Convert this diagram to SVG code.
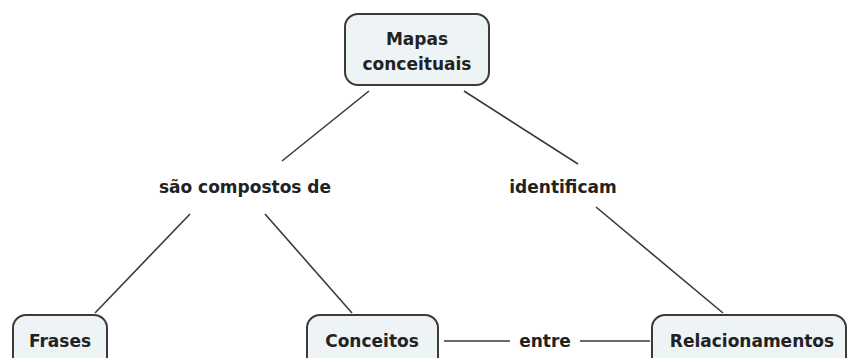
<svg xmlns="http://www.w3.org/2000/svg" width="848" height="358" viewBox="0 0 848 358">
<style>
.node rect{fill:#eef3f6;stroke:#3a3a3a;stroke-width:2}
text{font-family:"DejaVu Sans",Verdana,sans-serif;font-weight:bold;font-size:17px;fill:#222;text-anchor:middle;dominant-baseline:central}
.conn line{stroke:#3a3a3a;stroke-width:1.6}
</style>
<rect width="848" height="358" fill="#fff"/>
<g class="conn">
<line x1="369" y1="91" x2="282" y2="161"/>
<line x1="464" y1="91" x2="578" y2="164"/>
<line x1="190" y1="214" x2="95" y2="313"/>
<line x1="265" y1="214" x2="352" y2="313"/>
<line x1="596" y1="207" x2="723" y2="313"/>
<line x1="444" y1="341" x2="510" y2="341"/>
<line x1="580" y1="341" x2="650" y2="341"/>
</g>
<g id="n-mapas" class="node">
<rect x="345" y="14" width="144" height="71" rx="13"/>
<text x="417" y="39">Mapas</text>
<text x="417" y="64">conceituais</text>
</g>
<g id="l-compostos"><text x="245" y="187">são compostos de</text></g>
<g id="l-identificam"><text x="563" y="187">identificam</text></g>
<g id="l-entre"><text x="545" y="341">entre</text></g>
<g id="n-frases" class="node">
<rect x="13" y="315" width="94" height="60" rx="13"/>
<text x="60" y="341">Frases</text>
</g>
<g id="n-conceitos" class="node">
<rect x="307" y="315" width="131" height="60" rx="13"/>
<text x="372" y="341">Conceitos</text>
</g>
<g id="n-relac" class="node">
<rect x="652" y="315" width="194" height="60" rx="13"/>
<text x="752" y="341">Relacionamentos</text>
</g>
</svg>
